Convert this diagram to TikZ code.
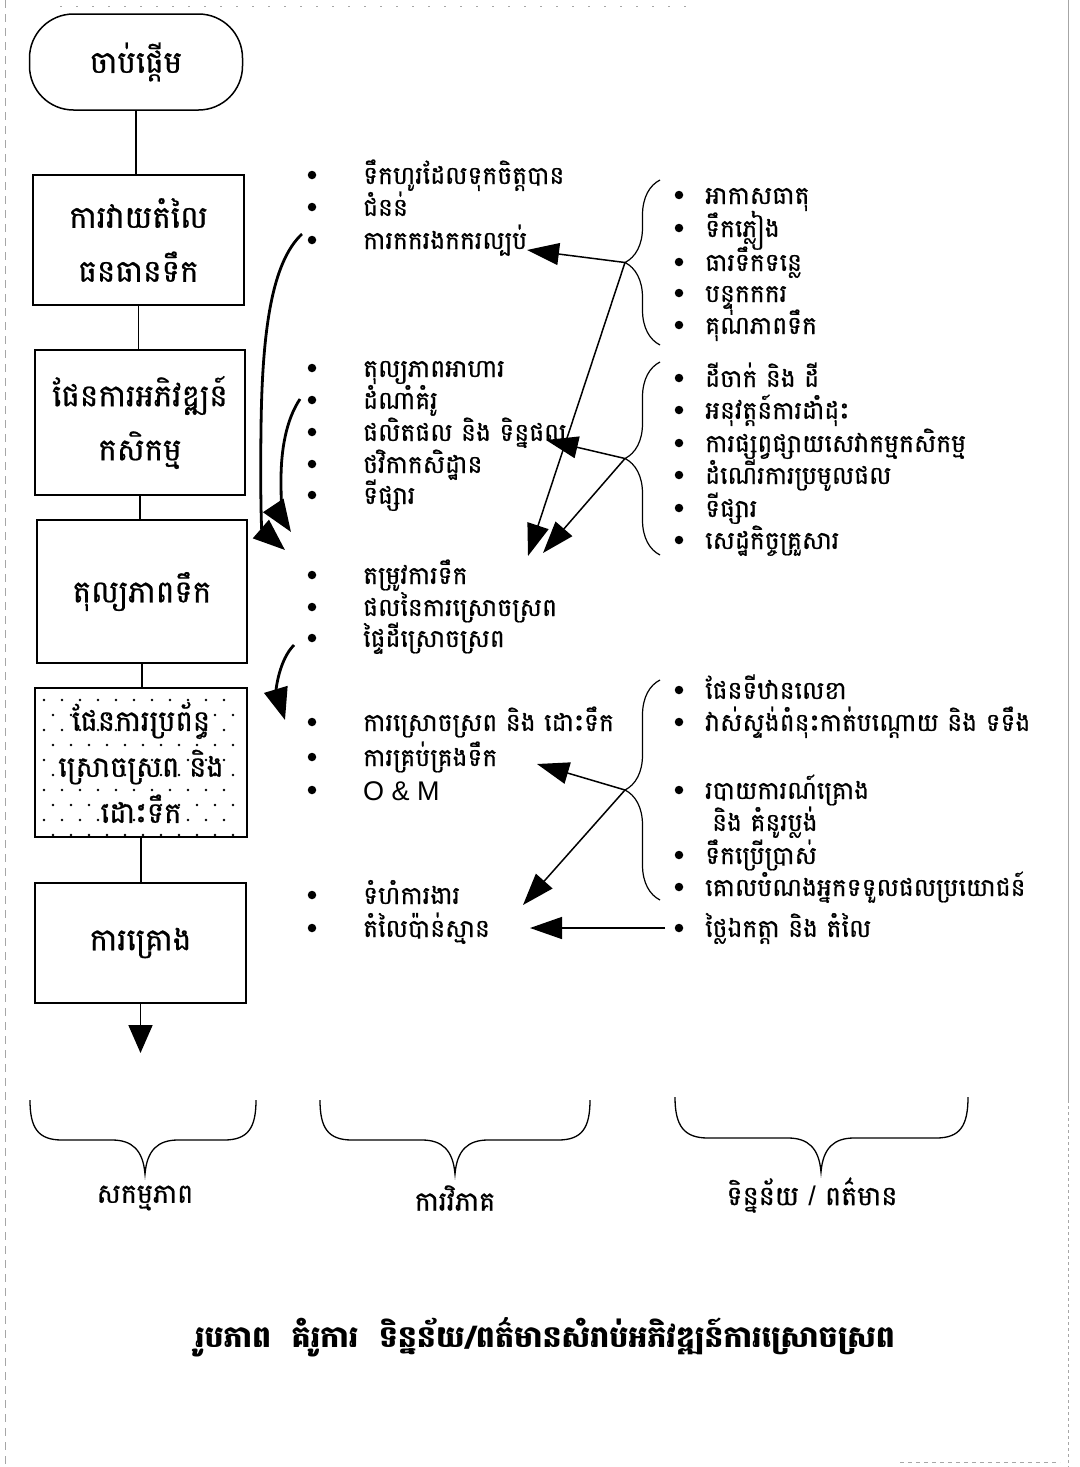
\documentclass[tikz,border=0pt]{standalone}
\usepackage{fontspec}
\newfontfamily\kh[Script=Khmer,FakeBold=0.7]{Battambang}
\newfontfamily\khb[Script=Khmer]{Battambang}
\newfontfamily\lat{Liberation Sans}
\usetikzlibrary{decorations.pathreplacing,arrows.meta}
\begin{document}
\begin{tikzpicture}[x=1pt,y=-1pt,
  box/.style={draw,line width=1.5pt,align=center,inner sep=0pt,
    font=\kh\fontsize{31}{54}\selectfont},
  itm/.style={anchor=base west,inner sep=0pt,font=\kh\fontsize{25}{28}\selectfont},
  bul/.style={circle,fill,inner sep=0pt,minimum size=8.5pt},
  link/.style={line width=1.4pt},
  sarrow/.style={line width=1.5pt,-{Triangle[length=32pt,width=22pt]}},
  carrow/.style={line width=2.8pt,-{Triangle[length=32pt,width=24pt]}},
  brc/.style={decorate,line width=1.2pt,decoration={brace,amplitude=35pt}},
  ubrace/.style={line width=1.3pt},
  lbl/.style={inner sep=0pt,font=\kh\fontsize{27}{30}\selectfont},
  edge/.style={gray!70,line width=0.6pt}]
\useasboundingbox (0,0) rectangle (1079,1467);

% scan edges
\draw[edge] (1068,0) -- (1068,1100);
\draw[edge,dashed] (1068,1100) -- (1068,1467);
\draw[edge,dash pattern=on 8pt off 6pt] (5,0) -- (5,1467);
\draw[edge,dash pattern=on 2pt off 14pt] (60,6) -- (700,6);
\draw[edge,dash pattern=on 4pt off 4pt] (900,1462) -- (1060,1462);

% dotted fill of box 5
\foreach \i in {0,...,9} {
  \pgfmathsetmacro\yy{700+15*\i}
  \pgfmathsetmacro\off{mod(\i,2)*9}
  \foreach \j in {0,...,10} {
    \fill ({44+\off+18*\j},\yy) circle[radius=1.3pt];
  }
}

% flowchart
\node[box,rounded corners=44pt,minimum width=213pt,minimum height=96pt] (start) at (136,62) {ចាប់ផ្តើម};
\node[box,minimum width=211pt,minimum height=130pt] (b2) at (138.5,240) {ការវាយតំលៃ\\ធនធានទឹក};
\node[box,minimum width=210pt,minimum height=145pt] (b3) at (140,422.5) {ផែនការអភិវឌ្ឍន៍\\កសិកម្ម};
\node[box,minimum width=210pt,minimum height=143pt] (b4) at (142,591.5) {តុល្យភាពទឹក};
\node[box,minimum width=212pt,minimum height=149pt,font=\kh\fontsize{29}{46}\selectfont] (b5) at (141,762.5) {ផែនការប្រព័ន្ធ\\ស្រោចស្រព និង\\ដោះទឹក};
\node[box,minimum width=211pt,minimum height=120pt] (b6) at (140.5,943) {ការគ្រោង};
\coordinate (endp) at (140.5,1053);

\draw[link] (start.south) -- (start.south |- b2.north);
\draw[link] (b2.south) -- (b2.south |- b3.north);
\draw[link] (b3.south) -- (b3.south |- b4.north);
\draw[link] (b4.south) -- (b4.south |- b5.north);
\draw[link] (b5.south) -- (b5.south |- b6.north);
\draw[line width=1.8pt,-{Triangle[length=28pt,width=24pt]}] (b6.south) -- (endp);

% middle column
\foreach \n/\y in {p1/175,p2/207,p3/240,p4/368,p5/400,p6/432,p7/464,p8/495,p9/575,p10/607,p11/638,p12/722,p13/757,p14/790,p15/895,p16/928}
  \node[bul] (\n) at (312,\y) {};
\node[itm] (m1) at (363,184) {ទឹកហូរដែលទុកចិត្តបាន};
\node[itm] (m2) at (363,216) {ជំនន់};
\node[itm] (m3) at (363,249) {ការកករងកករល្បប់};
\node[itm] (m4) at (363,377) {តុល្យភាពអាហារ};
\node[itm] (m5) at (363,409) {ដំណាំគំរូ};
\node[itm] (m6) at (363,441) {ផលិតផល និង ទិន្នផល};
\node[itm] (m7) at (363,473) {ថវិកាកសិដ្ឋាន};
\node[itm] (m8) at (363,504) {ទីផ្សារ};
\node[itm] (m9) at (363,584) {តម្រូវការទឹក};
\node[itm] (m10) at (363,616) {ផលនៃការស្រោចស្រព};
\node[itm] (m11) at (363,647) {ផ្ទៃដីស្រោចស្រព};
\node[itm] (m12) at (363,731) {ការស្រោចស្រព និង ដោះទឹក};
\node[itm] (m13) at (363,766) {ការគ្រប់គ្រងទឹក};
\node[itm,font=\lat\fontsize{27}{30}\selectfont] (m14) at (363,800) {O \& M};
\node[itm] (m15) at (363,904) {ទំហំការងារ};
\node[itm] (m16) at (363,937) {តំលៃប៉ាន់ស្មាន};

% right column
\foreach \n/\y in {q1/195,q2/228,q3/262,q4/293,q5/325,q6/378,q7/410,q8/443,q9/475,q10/508,q11/540,q12/690,q13/722,q14/790,q15/855,q16/887,q17/928}
  \node[bul] (\n) at (679,\y) {};
\node[itm] (r1) at (705,204) {អាកាសធាតុ};
\node[itm] (r2) at (705,237) {ទឹកភ្លៀង};
\node[itm] (r3) at (705,271) {ធារទឹកទន្លេ};
\node[itm] (r4) at (705,302) {បន្ទុកកករ};
\node[itm] (r5) at (705,334) {គុណភាពទឹក};
\node[itm] (r6) at (705,387) {ដីចាក់ និង ដី};
\node[itm] (r7) at (705,419) {អនុវត្តន៍ការដាំដុះ};
\node[itm] (r8) at (705,452) {ការផ្សព្វផ្សាយសេវាកម្មកសិកម្ម};
\node[itm] (r9) at (705,484) {ដំណើរការប្រមូលផល};
\node[itm] (r10) at (705,517) {ទីផ្សារ};
\node[itm] (r11) at (705,549) {សេដ្ឋកិច្ចគ្រួសារ};
\node[itm] (r12) at (705,699) {ផែនទីឋានលេខា};
\node[itm] (r13) at (705,731) {វាស់ស្ទង់ពំនុះកាត់បណ្តោយ និង ទទឹង};
\node[itm] (r14) at (705,799) {របាយការណ៍គ្រោង};
\node[itm] (r14b) at (712,831) {និង គំនូរប្លង់};
\node[itm] (r15) at (705,864) {ទឹកប្រើប្រាស់};
\node[itm] (r16) at (705,896) {គោលបំណងអ្នកទទួលផលប្រយោជន៍};
\node[itm] (r17) at (705,937) {ថ្លៃឯកត្តា និង តំលៃ};

% right braces
\draw[brc] (660,345) -- (660,180);
\draw[brc] (660,555) -- (660,362);
\draw[brc] (660,900) -- (660,680);
\coordinate (tA) at (625,262.5);
\coordinate (tB) at (625,458.5);
\coordinate (tC) at (625,790);

% arrows from braces
\coordinate (eA1) at (527,250);
\coordinate (eA2) at (528,556);
\coordinate (eB1) at (546,440);
\coordinate (eB2) at (543,553);
\coordinate (eC1) at (537,764);
\coordinate (eC2) at (523,905);
\coordinate (sD) at (665,928);
\coordinate (eD) at (530,928);
\draw[sarrow] (tA) -- (eA1);
\draw[sarrow] (tA) -- (eA2);
\draw[sarrow] (tB) -- (eB1);
\draw[sarrow] (tB) -- (eB2);
\draw[sarrow] (tC) -- (eC1);
\draw[sarrow] (tC) -- (eC2);
\draw[sarrow] (sD) -- (eD);

% curved arrows
\coordinate (c1s) at (302,234);
\coordinate (c1e) at (285,550);
\coordinate (c2s) at (300,399);
\coordinate (c2e) at (291,532);
\coordinate (c3s) at (294,645);
\coordinate (c3e) at (285,720);
\draw[carrow] (c1s) .. controls (272,262) and (262,330) .. (261,430) .. controls (260,505) and (262,530) .. (c1e);
\draw[carrow] (c2s) .. controls (286,420) and (281,450) .. (281,480) .. controls (281,505) and (283,520) .. (c2e);
\draw[carrow] (c3s) .. controls (279,660) and (276,690) .. (c3e);

% bottom braces
\draw[ubrace] (30,1100) .. controls (30,1128) and (38,1140) .. (62,1140) -- (112,1140)
  .. controls (132,1140) and (143,1150) .. (145,1174)
  .. controls (147,1150) and (158,1140) .. (178,1140) -- (224,1140)
  .. controls (248,1140) and (256,1128) .. (256,1100);
\draw[ubrace] (320,1100) .. controls (320,1128) and (328,1140) .. (352,1140) -- (422,1140)
  .. controls (442,1140) and (453,1150) .. (455,1174)
  .. controls (457,1150) and (468,1140) .. (488,1140) -- (558,1140)
  .. controls (582,1140) and (590,1128) .. (590,1100);
\draw[ubrace] (675,1097) .. controls (675,1126) and (684,1138) .. (708,1138) -- (788,1138)
  .. controls (808,1138) and (819,1148) .. (821,1172)
  .. controls (823,1148) and (834,1138) .. (854,1138) -- (936,1138)
  .. controls (960,1138) and (968,1126) .. (968,1097);
\node[lbl] (L1) at (145,1198) {សកម្មភាព};
\node[lbl] (L2) at (455,1198) {ការវិភាគ};
\node[lbl] (L3) at (812,1195) {ទិន្នន័យ {\lat/} ពត៌មាន};

% caption
\node[inner sep=0pt,font=\khb\bfseries\fontsize{30}{34}\selectfont] (cap) at (545,1337) {រូបភាព\ \ គំរូការ\ \ ទិន្នន័យ/ពត៌មានសំរាប់អភិវឌ្ឍន៍ការស្រោចស្រព};
\end{tikzpicture}
\end{document}
